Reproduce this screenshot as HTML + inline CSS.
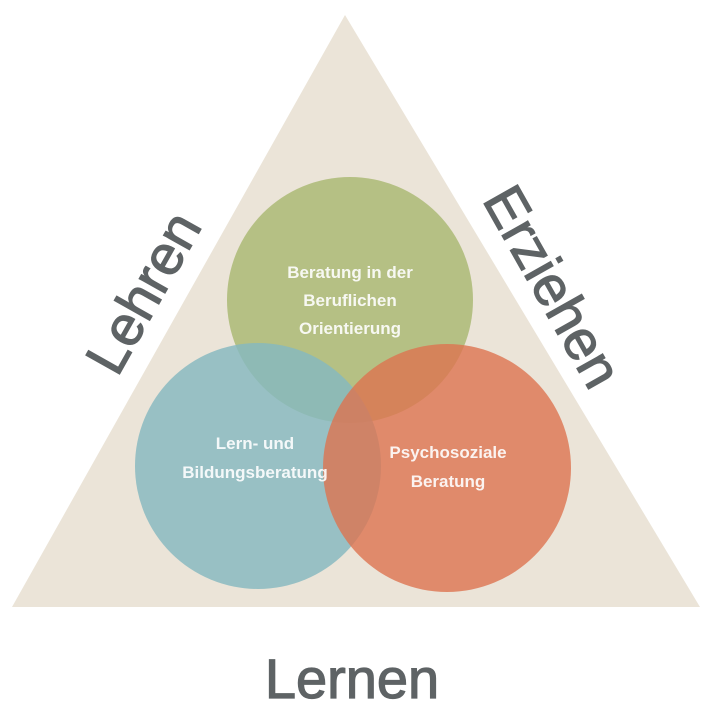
<!DOCTYPE html>
<html><head><meta charset="utf-8"><style>
html,body{margin:0;padding:0;background:#fff;}
</style></head><body>
<svg width="708" height="716" viewBox="0 0 708 716" xmlns="http://www.w3.org/2000/svg" font-family="Liberation Sans, sans-serif">
<polygon points="345,15 12,607 700,607" fill="#ebe4d8"/>
<g opacity="0.88">
<circle cx="350" cy="300" r="123" fill="#adbb78"/>
</g>
<g opacity="0.82">
<circle cx="258" cy="466" r="123" fill="#85b8c0"/>
</g>
<g opacity="0.8">
<circle cx="447" cy="468" r="124" fill="#dd7350"/>
</g>
<g fill="#fff" font-size="17" text-anchor="middle" font-weight="bold" opacity="0.9">
<text x="350" y="278">Beratung in der</text>
<text x="350" y="306">Beruflichen</text>
<text x="350" y="334">Orientierung</text>
<text x="255" y="449">Lern- und</text>
<text x="255" y="478">Bildungsberatung</text>
<text x="448" y="458">Psychosoziale</text>
<text x="448" y="487">Beratung</text>
</g>
<g fill="#5e6365" stroke="#5e6365" stroke-width="1.2" font-size="56" text-anchor="middle">
<text transform="translate(160,302) rotate(-60.6)">Lehren</text>
<text transform="translate(536,296) rotate(60.6)">Erziehen</text>
<text x="352" y="698">Lernen</text>
</g>
</svg>
</body></html>
